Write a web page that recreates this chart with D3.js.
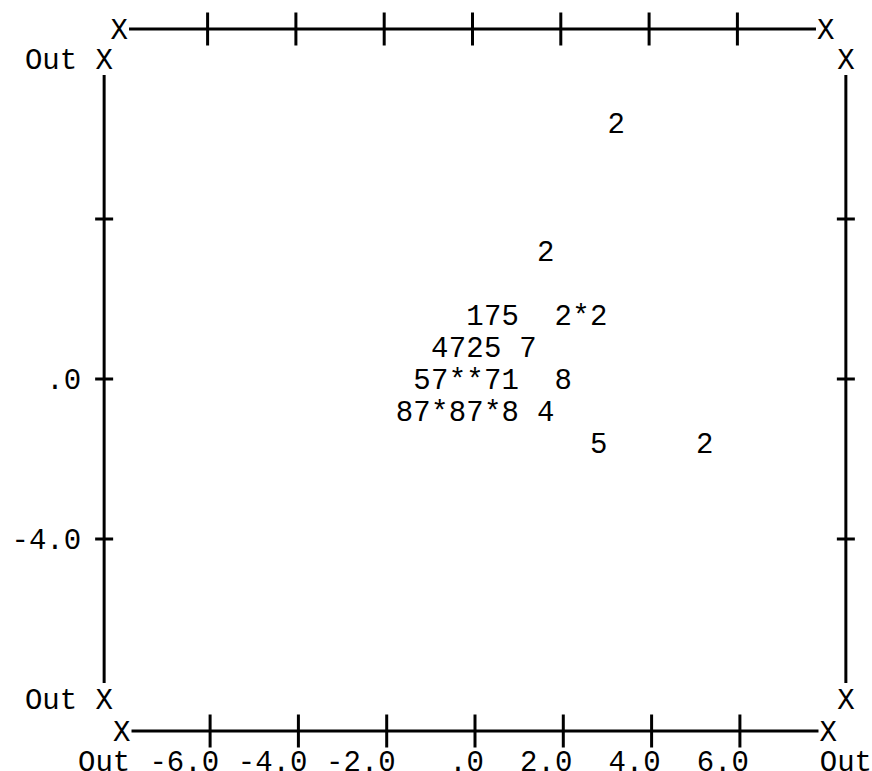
<html>
<head>
<meta charset="utf-8">
<script src="https://d3js.org/d3.v7.min.js"></script>
<style type="text/css">
	body { margin: 0; background: #fff; }
	text { font-family: "Courier New", Courier, "Liberation Mono", monospace; font-size: 29px; fill: #000; }
	.ax { stroke: #000; stroke-width: 3; fill: none; }
</style>
</head>
<body>
<script type="text/javascript">
// character plot cells (x, y in data units, printed symbol)
var xs  = [3.2, 1.6, 0, 0.4, 0.8, 2.0, 2.4, 2.8, -0.8, -0.4, 0, 0.4, 1.2, -1.2, -0.8, -0.4, 0, 0.4, 0.8, 2.0, -1.6, -1.2, -0.8, -0.4, 0, 0.4, 0.8, 1.6, 2.8, 5.2];
var ys  = [6.4, 3.2, 1.6, 1.6, 1.6, 1.6, 1.6, 1.6, 0.8, 0.8, 0.8, 0.8, 0.8, 0, 0, 0, 0, 0, 0, 0, -0.8, -0.8, -0.8, -0.8, -0.8, -0.8, -0.8, -0.8, -1.6, -1.6];
var sym = ["2", "2", "1", "7", "5", "2", "*", "2", "4", "7", "2", "5", "7", "5", "7", "*", "*", "7", "1", "8", "8", "7", "*", "8", "7", "*", "8", "4", "5", "2"];

var xTicks = [-6, -4, -2, 0, 2, 4, 6];
var yTicks = [4, 0, -4];
var yLabelled = [0, -4];

var w = 872, h = 771;
var x = d3.scaleLinear().domain([0, 1]).range([475, 519.15]);
var y = d3.scaleLinear().domain([0, 1]).range([379, 339]);

// spss style: no leading zero, plain hyphen for minus
function fmt(v) {
	return d3.format(".1f")(v).replace("\u2212", "-").replace(/^(-?)0\./, "$1.");
}

var svg = d3.select("body").append("svg")
	.attr("width", w)
	.attr("height", h);

// vertical frame lines
[-8.4, 8.4].forEach(function(xv) {
	svg.append("line").attr("class", "ax")
		.attr("x1", x(xv)).attr("x2", x(xv))
		.attr("y1", y(7.6)).attr("y2", y(-7.6));
	svg.selectAll(null).data(yTicks).enter().append("line").attr("class", "ax")
		.attr("x1", x(xv) - 9).attr("x2", x(xv) + 9)
		.attr("y1", function(d) { return y(d); })
		.attr("y2", function(d) { return y(d); });
	[8, -8].forEach(function(yv) {
		svg.append("text").attr("x", x(xv)).attr("y", y(yv)).attr("dy", "0.35em")
			.attr("text-anchor", "middle").text("X");
	});
});
[8, -8].forEach(function(yv) {
	svg.append("text").attr("x", x(-8.4) - 27).attr("y", y(yv)).attr("dy", "0.35em")
		.attr("text-anchor", "end").text("Out");
});
svg.selectAll(".ylab").data(yLabelled).enter().append("text").attr("class", "ylab")
	.attr("x", x(-8.4) - 23)
	.attr("y", function(d) { return y(d); })
	.attr("dy", "0.35em")
	.attr("text-anchor", "end")
	.text(fmt);

// horizontal axes (top one sits a little to the left)
[{yv: 8.75, dx: -2.5}, {yv: -8.8, dx: 0}].forEach(function(a) {
	var g = svg.append("g").attr("transform", "translate(" + a.dx + ",0)");
	g.append("line").attr("class", "ax")
		.attr("x1", x(-7.78)).attr("x2", x(7.78))
		.attr("y1", y(a.yv)).attr("y2", y(a.yv));
	g.selectAll(null).data(xTicks).enter().append("line").attr("class", "ax")
		.attr("x1", function(d) { return x(d); })
		.attr("x2", function(d) { return x(d); })
		.attr("y1", y(a.yv) - 16.5).attr("y2", y(a.yv) + 16.5);
	[-8, 8].forEach(function(xv) {
		g.append("text").attr("x", x(xv)).attr("y", y(a.yv)).attr("dy", "0.35em")
			.attr("text-anchor", "middle").text("X");
	});
});

// bottom labels
svg.selectAll(".xlab").data(xTicks).enter().append("text").attr("class", "xlab")
	.attr("x", function(d) { return x(d) + 9; })
	.attr("y", y(-9.55))
	.attr("dy", "0.35em")
	.attr("text-anchor", "end")
	.text(fmt);
[-8.4, 8.4].forEach(function(xv) {
	svg.append("text").attr("x", x(xv)).attr("y", y(-9.55)).attr("dy", "0.35em")
		.attr("text-anchor", "middle").text("Out");
});

// plotted symbols
svg.selectAll(".pt").data(sym).enter().append("text").attr("class", "pt")
	.attr("x", function(d, i) { return x(xs[i]); })
	.attr("y", function(d, i) { return y(ys[i]); })
	.attr("dy", "0.35em")
	.attr("text-anchor", "middle")
	.text(function(d) { return d; });
</script>
</body>
</html>
